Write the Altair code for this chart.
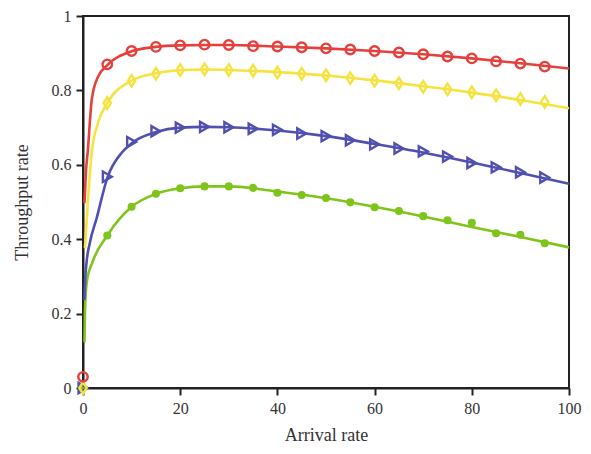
import altair as alt
import pandas as pd

# ---- data ----
marker_x = [0, 5, 10, 15, 20, 25, 30, 35, 40, 45, 50, 55, 60, 65, 70, 75, 80, 85, 90, 95]
red_pts = [0.03, 0.870, 0.906, 0.917, 0.921, 0.923, 0.922, 0.919, 0.918, 0.916, 0.913,
           0.910, 0.906, 0.902, 0.897, 0.891, 0.886, 0.878, 0.872, 0.864]
yellow_pts = [0.0, 0.766, 0.826, 0.845, 0.855, 0.857, 0.855, 0.853, 0.848, 0.845, 0.841,
              0.833, 0.826, 0.819, 0.810, 0.803, 0.795, 0.787, 0.777, 0.769]
blue_pts = [0.0, 0.568, 0.661, 0.690, 0.700, 0.702, 0.701, 0.697, 0.694, 0.684, 0.677,
            0.666, 0.655, 0.644, 0.636, 0.622, 0.605, 0.593, 0.580, 0.566]
green_pts = [0.0, 0.410, 0.487, 0.522, 0.537, 0.542, 0.542, 0.538, 0.525, 0.519, 0.511,
             0.499, 0.486, 0.476, 0.462, 0.451, 0.444, 0.416, 0.412, 0.389]

red_line_x = [0.3, 0.6, 1.0, 1.8, 3.1, 5, 10, 15, 20, 25, 30, 40, 50, 60, 70, 80, 90, 100]
red_line_y = [0.497, 0.58, 0.64, 0.775, 0.837, 0.868, 0.905, 0.917, 0.921, 0.922, 0.922,
              0.918, 0.913, 0.906, 0.897, 0.886, 0.873, 0.859]
yellow_line_x = [0.4, 1.0, 1.8, 3.1, 5, 10, 15, 20, 25, 30, 40, 50, 60, 70, 80, 90, 100]
yellow_line_y = [0.376, 0.50, 0.633, 0.713, 0.766, 0.826, 0.846, 0.854, 0.856, 0.855,
                 0.849, 0.840, 0.827, 0.811, 0.794, 0.774, 0.752]
blue_line_x = [0.3, 0.45, 0.75, 1.4, 2.8, 5, 8, 10, 15, 20, 25, 30, 40, 50, 60, 70, 80, 90, 100]
blue_line_y = [0.236, 0.29, 0.34, 0.39, 0.456, 0.565, 0.633, 0.658, 0.688, 0.700, 0.702,
               0.701, 0.692, 0.677, 0.656, 0.633, 0.606, 0.578, 0.549]
green_line_x = [0.3, 0.4, 0.8, 2.0, 5, 10, 15, 20, 25, 30, 40, 50, 60, 70, 80, 90, 100]
green_line_y = [0.123, 0.207, 0.287, 0.34, 0.41, 0.487, 0.522, 0.537, 0.542, 0.542, 0.528,
                0.510, 0.487, 0.461, 0.433, 0.406, 0.378]

RED, YELLOW, BLUE, GREEN = "#E5403C", "#F6E33F", "#5150B0", "#7EC41A"

x_ticks = [0, 20, 40, 60, 80, 100]
y_ticks = [0, 0.2, 0.4, 0.6, 0.8, 1.0]

X = alt.X("x:Q", scale=alt.Scale(domain=[0, 100], nice=False),
          axis=alt.Axis(values=x_ticks, title="Arrival rate", format="d"))
Y = alt.Y("y:Q", scale=alt.Scale(domain=[0, 1], nice=False),
          axis=alt.Axis(values=y_ticks, title="Throughput rate", format=".1~f"))


def line_layer(xs, ys, color):
    df = pd.DataFrame({"x": xs, "y": ys})
    return alt.Chart(df).mark_line(color=color, strokeWidth=2.6,
                                   interpolate="monotone").encode(x=X, y=Y)


def point_layer(ys, color, shape, filled, size):
    df = pd.DataFrame({"x": marker_x, "y": ys})
    if filled:
        m = alt.Chart(df).mark_point(shape=shape, filled=True, color=color,
                                     size=size, opacity=1)
    else:
        m = alt.Chart(df).mark_point(shape=shape, filled=False, color=color,
                                     size=size, strokeWidth=2.4, opacity=1)
    return m.encode(x=X, y=Y)


diamond = "M0,-1.25L0.8,0L0,1.25L-0.8,0Z"

chart = alt.layer(
    line_layer(green_line_x, green_line_y, GREEN),
    line_layer(blue_line_x, blue_line_y, BLUE),
    line_layer(yellow_line_x, yellow_line_y, YELLOW),
    line_layer(red_line_x, red_line_y, RED),
    point_layer(green_pts, GREEN, "circle", True, 65),
    point_layer(blue_pts, BLUE, "triangle-right", False, 105),
    point_layer(yellow_pts, YELLOW, diamond, False, 85),
    point_layer(red_pts, RED, "circle", False, 90),
).properties(
    width=486, height=372,
    autosize=alt.AutoSizeParams(type="none"),
    padding={"left": 75, "top": 8, "right": 14, "bottom": 62},
).configure_view(
    stroke="#222", strokeWidth=2
).configure_axis(
    grid=False,
    domainColor="#222", domainWidth=2,
    tickColor="#222", tickWidth=2, tickSize=7,
    labelFont="Liberation Serif", labelFontSize=16, labelColor="#333",
    titleFont="Liberation Serif", titleFontSize=18, titleColor="#333",
    titleFontWeight="normal", labelFlush=False, labelPadding=5,
).configure_axisY(
    titlePadding=20
).configure_axisX(
    titlePadding=10
)

chart.save("out.html", embed_options={"renderer": "svg", "actions": False})
